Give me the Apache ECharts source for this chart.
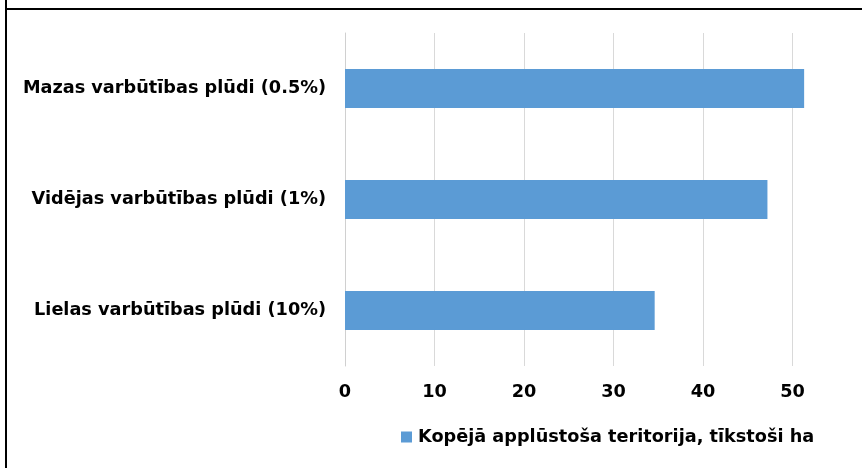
<!DOCTYPE html>
<html>
<head>
<meta charset="utf-8">
<script src="https://cdn.jsdelivr.net/npm/echarts@6/dist/echarts.min.js"></script>
<style>
  html, body { margin: 0; padding: 0; background: #fff; }
  #chart { width: 862px; height: 468px; }
</style>
</head>
<body>
<div id="chart"></div>
<script>
// Flood probability scenarios (bottom to top on the category axis)
var categories = [
  'Lielas varbūtības plūdi (10%)',
  'Vidējas varbūtības plūdi (1%)',
  'Mazas varbūtības plūdi (0.5%)'
];
// Total flooded area, thousand ha
var floodedArea = [34.6, 47.2, 51.3];
var seriesName = 'Kopējā applūstoša teritorija, tīkstoši ha';

var FONT = '"DejaVu Sans", "Liberation Sans", sans-serif';
var FS = 17.7;

var chart = echarts.init(document.getElementById('chart'), null, { renderer: 'canvas' });
chart.setOption({
  animation: false,
  backgroundColor: '#ffffff',
  textStyle: { fontFamily: FONT },
  graphic: [
    { type: 'line', shape: { x1: 6, y1: 0, x2: 6, y2: 468 }, style: { stroke: '#000', lineWidth: 2 } },
    { type: 'line', shape: { x1: 5, y1: 9, x2: 862, y2: 9 }, style: { stroke: '#000', lineWidth: 2 } }
  ],
  grid: { left: 345, top: 33, width: 537, height: 333, containLabel: false, outerBoundsMode: 'none' },
  xAxis: {
    type: 'value',
    min: 0,
    max: 60,
    interval: 10,
    axisLine: { show: false },
    axisTick: { show: false },
    splitLine: { show: true, lineStyle: { color: '#d9d9d9', width: 1 } },
    axisLabel: { color: '#000', fontSize: FS, fontWeight: 'bold', fontFamily: FONT, margin: 17 }
  },
  yAxis: {
    type: 'category',
    data: categories,
    axisLine: { show: true, lineStyle: { color: '#d0d0d0', width: 1 } },
    axisTick: { show: false },
    axisLabel: { color: '#000', fontSize: FS, fontWeight: 'bold', fontFamily: FONT, margin: 19 }
  },
  legend: {
    left: 396,
    top: 423,
    itemWidth: 11,
    itemHeight: 11,
    icon: 'rect',
    textStyle: { color: '#000', fontSize: FS, fontWeight: 'bold', fontFamily: FONT, padding: [0, 0, 0, 1] },
    data: [seriesName]
  },
  series: [{
    name: seriesName,
    type: 'bar',
    data: floodedArea,
    barWidth: 39,
    itemStyle: { color: '#5b9bd5' }
  }]
});
</script>
</body>
</html>
